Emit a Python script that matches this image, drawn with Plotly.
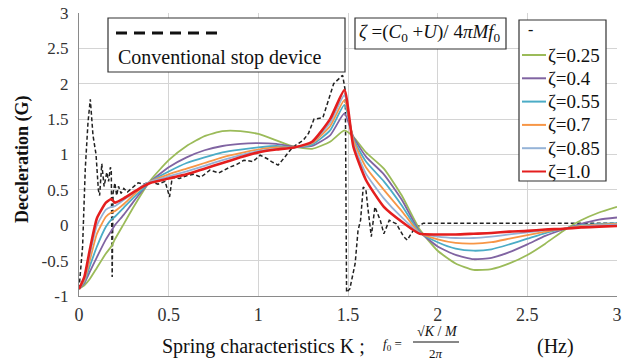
import plotly.graph_objects as go

# ---------------- data ----------------
X_ZETA = [0, 0.03, 0.06, 0.1, 0.15, 0.18, 0.2, 0.25, 0.3, 0.35, 0.4, 0.5, 0.6, 0.7, 0.8, 0.9,
          1.0, 1.1, 1.2, 1.3, 1.4, 1.48, 1.53, 1.6, 1.7, 1.8, 1.9, 2.0, 2.1, 2.2, 2.3, 2.4,
          2.5, 2.6, 2.7, 2.8, 2.9, 3.0]

ZETA_025 = [-0.9, -0.85, -0.76, -0.6, -0.4, -0.3, -0.2, 0.02, 0.24, 0.45, 0.64, 0.92, 1.12, 1.26,
            1.33, 1.33, 1.29, 1.2, 1.11, 1.08, 1.18, 1.34, 1.25, 1.03, 0.8, 0.42, -0.06, -0.36,
            -0.54, -0.63, -0.62, -0.54, -0.42, -0.26, -0.08, 0.07, 0.18, 0.26]
ZETA_040 = [-0.9, -0.82, -0.66, -0.45, -0.2, -0.08, 0.0, 0.15, 0.32, 0.48, 0.62, 0.82, 0.96, 1.06,
            1.12, 1.15, 1.16, 1.15, 1.11, 1.12, 1.27, 1.58, 1.25, 0.97, 0.72, 0.36, -0.09, -0.3,
            -0.42, -0.48, -0.46, -0.38, -0.27, -0.15, -0.06, 0.02, 0.08, 0.11]
ZETA_055 = [-0.9, -0.8, -0.58, -0.3, -0.02, 0.08, 0.12, 0.25, 0.38, 0.5, 0.62, 0.76, 0.88, 0.96,
            1.03, 1.07, 1.1, 1.12, 1.1, 1.14, 1.34, 1.7, 1.22, 0.9, 0.62, 0.28, -0.1, -0.24,
            -0.33, -0.36, -0.34, -0.27, -0.19, -0.11, -0.05, 0.0, 0.02, 0.03]
ZETA_070 = [-0.9, -0.78, -0.5, -0.12, 0.12, 0.18, 0.2, 0.3, 0.42, 0.53, 0.62, 0.72, 0.8, 0.88,
            0.96, 1.02, 1.07, 1.1, 1.1, 1.16, 1.4, 1.77, 1.2, 0.82, 0.5, 0.2, -0.11, -0.2,
            -0.25, -0.26, -0.24, -0.19, -0.14, -0.09, -0.05, -0.01, 0.01, 0.02]
ZETA_085 = [-0.9, -0.76, -0.42, 0.0, 0.22, 0.26, 0.27, 0.36, 0.45, 0.55, 0.62, 0.69, 0.76, 0.84,
            0.92, 0.99, 1.05, 1.08, 1.1, 1.17, 1.45, 1.84, 1.16, 0.73, 0.38, 0.11, -0.11, -0.16,
            -0.18, -0.18, -0.16, -0.13, -0.1, -0.07, -0.05, -0.02, 0.0, 0.01]
ZETA_100 = [-0.9, -0.73, -0.35, 0.1, 0.32, 0.37, 0.32, 0.38, 0.46, 0.54, 0.6, 0.66, 0.72, 0.8,
            0.88, 0.96, 1.03, 1.07, 1.1, 1.18, 1.5, 1.91, 1.11, 0.64, 0.26, 0.05, -0.12, -0.13,
            -0.13, -0.12, -0.11, -0.09, -0.08, -0.06, -0.05, -0.03, -0.02, -0.01]

CONV_X = [0, 0.02, 0.035, 0.05, 0.063, 0.078, 0.095, 0.108, 0.115, 0.127, 0.14, 0.155, 0.165,
          0.175, 0.18, 0.185, 0.19, 0.2, 0.21, 0.22, 0.235, 0.25, 0.27, 0.3, 0.33, 0.36, 0.4,
          0.44, 0.48, 0.505, 0.52, 0.56, 0.6, 0.64, 0.68, 0.73, 0.78, 0.84, 0.88, 0.92, 0.97,
          1.01, 1.05, 1.08, 1.11, 1.14, 1.16, 1.19, 1.25, 1.28, 1.31, 1.36, 1.42, 1.47, 1.485,
          1.492, 1.51, 1.54, 1.556, 1.57, 1.585, 1.6, 1.61, 1.63, 1.65, 1.68, 1.7, 1.73, 1.77,
          1.81, 1.83, 1.87, 1.92, 2.0, 2.5, 3.0]
CONV_Y = [-0.9, -0.3, 0.8, 1.45, 1.78, 1.27, 1.0, 0.5, 0.42, 0.87, 0.55, 0.75, 0.62, 0.82, 0.78,
          -0.73, 0.45, 0.6, 0.42, 0.55, 0.45, 0.52, 0.47, 0.53, 0.6, 0.58, 0.62, 0.58, 0.62, 0.4,
          0.68, 0.66, 0.7, 0.72, 0.68, 0.78, 0.74, 0.82, 0.86, 0.92, 0.9, 0.99, 0.94, 0.89, 0.85,
          0.94, 1.01, 1.1, 1.2, 1.3, 1.5, 1.52, 2.0, 2.12, 1.9, -0.95, -0.9, -0.54, -0.07, 0.07,
          0.54, 0.5, 0.26, -0.16, 0.26, 0.07, -0.12, 0.07, 0.02, -0.16, -0.21, -0.05, 0.03, 0.03,
          0.03, 0.03]

SERIES_NAMES = ["ζ=0.25", "ζ=0.4", "ζ=0.55", "ζ=0.7", "ζ=0.85", "ζ=1.0"]
SERIES_VALUES = [ZETA_025, ZETA_040, ZETA_055, ZETA_070, ZETA_085, ZETA_100]
CONV_NAME = "Conventional stop device"
X_TICKS = [0, 0.5, 1, 1.5, 2, 2.5, 3]
X_TICK_LABELS = ["0", "0.5", "1", "1.5", "2", "2.5", "3"]
Y_TICKS = [-1, -0.5, 0, 0.5, 1, 1.5, 2, 2.5, 3]
Y_TICK_LABELS = ["-1", "-0.5", "0", "0.5", "1", "1.5", "2", "2.5", "3"]

# ---------------- style ----------------
COLORS = ["#9BBB59", "#8064A2", "#4BACC6", "#F79646", "#95B3D7", "#E41E1E"]
WIDTHS = [1.8, 1.8, 1.8, 1.8, 1.8, 2.6]
SERIF = "Liberation Serif"

W, H = 629, 364
# plot-area edges in window pixels
L, R, T, B = 79, 617, 13, 296


def px(x):
    return (x - L) / (R - L)


def py(y):
    return (B - y) / (B - T)


fig = go.Figure()

fig.add_trace(go.Scatter(x=CONV_X, y=CONV_Y, mode="lines", name=CONV_NAME,
                         line=dict(color="#222222", width=1.5, dash="4px,2.5px"),
                         showlegend=False))

for name, vals, col, w in zip(SERIES_NAMES, SERIES_VALUES, COLORS, WIDTHS):
    fig.add_trace(go.Scatter(x=X_ZETA, y=vals, mode="lines", name=name,
                             line=dict(color=col, width=w, shape="spline", smoothing=0.5),
                             showlegend=False))

shapes = []
annotations = []

# legend box 1 (conventional)
shapes.append(dict(type="rect", xref="paper", yref="paper", x0=px(108), x1=px(345),
                   y0=py(72), y1=py(18), line=dict(color="#333", width=1.2),
                   fillcolor="white", layer="above"))
shapes.append(dict(type="line", xref="paper", yref="paper", x0=px(116), x1=px(217),
                   y0=py(33), y1=py(33), line=dict(color="#111", width=3, dash="11px,7px"),
                   layer="above"))
annotations.append(dict(xref="paper", yref="paper", x=px(116), y=py(57), xanchor="left",
                        yanchor="middle", text=CONV_NAME, showarrow=False,
                        font=dict(family=SERIF, size=20, color="#111")))

# formula box
shapes.append(dict(type="rect", xref="paper", yref="paper", x0=px(355), x1=px(506),
                   y0=py(49), y1=py(18), line=dict(color="#333", width=1.2),
                   fillcolor="white", layer="above"))
annotations.append(dict(xref="paper", yref="paper", x=px(430), y=py(33), xanchor="center",
                        yanchor="middle",
                        text="<i>ζ</i> =(<i>C</i><sub>0</sub> +<i>U</i>)/ 4<i>πMf</i><sub>0</sub>",
                        showarrow=False, font=dict(family=SERIF, size=19, color="#111")))

# legend box for zeta series
shapes.append(dict(type="rect", xref="paper", yref="paper", x0=px(519), x1=px(606),
                   y0=py(181), y1=py(20), line=dict(color="#333", width=1.2),
                   fillcolor="white", layer="above"))
annotations.append(dict(xref="paper", yref="paper", x=px(526), y=py(30), xanchor="left",
                        yanchor="middle", text="-", showarrow=False,
                        font=dict(family=SERIF, size=16, color="#111")))
for i, (name, col) in enumerate(zip(SERIES_NAMES, COLORS)):
    yy = 55 + i * 23.3
    shapes.append(dict(type="line", xref="paper", yref="paper", x0=px(522), x1=px(546),
                       y0=py(yy), y1=py(yy), line=dict(color=col, width=2), layer="above"))
    annotations.append(dict(xref="paper", yref="paper", x=px(546), y=py(yy), xanchor="left",
                            yanchor="middle", text=name, showarrow=False,
                            font=dict(family=SERIF, size=19, color="#111")))

# y axis title
annotations.append(dict(xref="paper", yref="paper", x=px(22), y=py(160), xanchor="center",
                        yanchor="middle", text="<b>Deceleration (G)</b>", textangle=-90,
                        showarrow=False, font=dict(family=SERIF, size=18, color="#111")))

# x axis title pieces
annotations.append(dict(xref="paper", yref="paper", x=px(160), y=py(346), xanchor="left",
                        yanchor="middle", text="Spring characteristics K ;", showarrow=False,
                        font=dict(family=SERIF, size=20, color="#111")))
annotations.append(dict(xref="paper", yref="paper", x=px(381), y=py(345), xanchor="left",
                        yanchor="middle", text="<i>f</i><sub>0</sub> =", showarrow=False,
                        font=dict(family=SERIF, size=13, color="#111")))
annotations.append(dict(xref="paper", yref="paper", x=px(437), y=py(331), xanchor="center",
                        yanchor="middle", text="√<i>K</i> / <i>M</i>", showarrow=False,
                        font=dict(family=SERIF, size=14, color="#111")))
shapes.append(dict(type="line", xref="paper", yref="paper", x0=px(413), x1=px(459),
                   y0=py(342), y1=py(342), line=dict(color="#111", width=1)))
annotations.append(dict(xref="paper", yref="paper", x=px(436), y=py(353), xanchor="center",
                        yanchor="middle", text="2<i>π</i>", showarrow=False,
                        font=dict(family=SERIF, size=13, color="#111")))
annotations.append(dict(xref="paper", yref="paper", x=px(535), y=py(346), xanchor="left",
                        yanchor="middle", text="(Hz)", showarrow=False,
                        font=dict(family=SERIF, size=20, color="#111")))

fig.update_layout(
    width=W, height=H,
    margin=dict(l=L, r=W - R, t=T, b=H - B, autoexpand=False),
    paper_bgcolor="white", plot_bgcolor="white",
    shapes=shapes, annotations=annotations,
    showlegend=False,
)
fig.update_xaxes(range=[0, 3], tickvals=X_TICKS, ticktext=X_TICK_LABELS,
                 showgrid=True, gridcolor="#d4d4d4", gridwidth=1, zeroline=False,
                 showline=True, linecolor="#8a8a8a", linewidth=1.2, ticks="",
                 automargin=False, ticklabelstandoff=2, ticklabeloverflow="allow",
                 tickfont=dict(family=SERIF, size=18, color="#333"))
fig.update_yaxes(range=[-1, 3], tickvals=Y_TICKS, ticktext=Y_TICK_LABELS,
                 showgrid=True, gridcolor="#d4d4d4", gridwidth=1, zeroline=True,
                 zerolinecolor="#d4d4d4", zerolinewidth=1,
                 showline=True, linecolor="#8a8a8a", linewidth=1.2, ticks="",
                 automargin=False, ticklabelstandoff=6, ticklabeloverflow="allow",
                 tickfont=dict(family=SERIF, size=17, color="#333"))

# remove the page's default body margin so the figure fills the window exactly
fig.write_html("out.html",
               config={"displayModeBar": False},
               post_script="document.body.style.margin='0';document.body.style.overflow='hidden';")
